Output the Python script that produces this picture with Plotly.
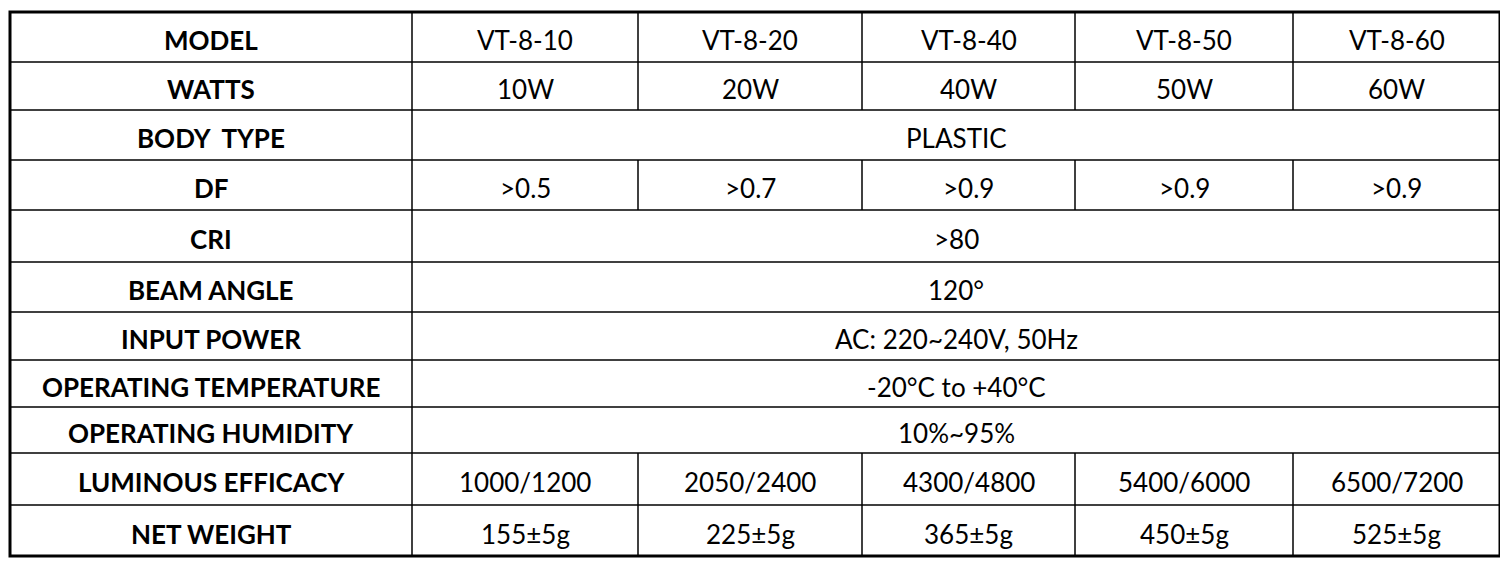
import plotly.graph_objects as go

labels = ["MODEL", "WATTS", "BODY  TYPE", "DF", "CRI", "BEAM ANGLE", "INPUT POWER",
          "OPERATING TEMPERATURE", "OPERATING HUMIDITY", "LUMINOUS EFFICACY", "NET WEIGHT"]
models = ["VT-8-10", "VT-8-20", "VT-8-40", "VT-8-50", "VT-8-60"]
watts = ["10W", "20W", "40W", "50W", "60W"]
body_type = "PLASTIC"
df_vals = [">0.5", ">0.7", ">0.9", ">0.9", ">0.9"]
cri = ">80"
beam = "120°"
input_power = "AC: 220~240V, 50Hz"
temperature = "-20°C to +40°C"
humidity = "10%~95%"
efficacy = ["1000/1200", "2050/2400", "4300/4800", "5400/6000", "6500/7200"]
weight = ["155±5g", "225±5g", "365±5g", "450±5g", "525±5g"]

rows = [models, watts, body_type, df_vals, cri, beam, input_power,
        temperature, humidity, efficacy, weight]

col_edges = [10, 412, 638, 862, 1075, 1293, 1500]
row_edges = [12, 62, 110, 160, 210, 262, 312, 360, 407, 453, 505, 556]

fig = go.Figure()
shapes, ann = [], []
font = dict(family="Lato, Open Sans, sans-serif", color="black")

for i, (lab, vals) in enumerate(zip(labels, rows)):
    y0, y1 = row_edges[i], row_edges[i + 1]
    ym = (y0 + y1) / 2 + 3
    ann.append(dict(x=(col_edges[0] + col_edges[1]) / 2, y=ym, text=f"<b>{lab}</b>",
                    showarrow=False, font=dict(size=26, **font)))
    if i > 0:
        shapes.append(dict(type="line", x0=col_edges[0], x1=col_edges[-1], y0=y0, y1=y0,
                           line=dict(color="black", width=1.5)))
    shapes.append(dict(type="line", x0=col_edges[1], x1=col_edges[1], y0=y0, y1=y1,
                       line=dict(color="black", width=1.5)))
    if isinstance(vals, str):
        ann.append(dict(x=(col_edges[1] + col_edges[-1]) / 2, y=ym, text=vals,
                        showarrow=False, font=dict(size=26, **font)))
    else:
        for j, v in enumerate(vals):
            ann.append(dict(x=(col_edges[j + 1] + col_edges[j + 2]) / 2, y=ym, text=v,
                            showarrow=False, font=dict(size=26, **font)))
            if j > 0:
                shapes.append(dict(type="line", x0=col_edges[j + 1], x1=col_edges[j + 1],
                                   y0=y0, y1=y1, line=dict(color="black", width=1.5)))

shapes.append(dict(type="rect", x0=col_edges[0], x1=col_edges[-1], y0=row_edges[0],
                   y1=row_edges[-1], line=dict(color="black", width=3)))

# page body has an 8px margin, so the figure is 1492x552 offset by 8px
fig.update_layout(
    width=1492, height=552, margin=dict(l=0, r=0, t=0, b=0),
    paper_bgcolor="white", plot_bgcolor="white",
    xaxis=dict(range=[8, 1500], visible=False, fixedrange=True),
    yaxis=dict(range=[560, 8], visible=False, fixedrange=True),
    shapes=shapes, annotations=ann, showlegend=False,
)
fig.write_html("out.html")
